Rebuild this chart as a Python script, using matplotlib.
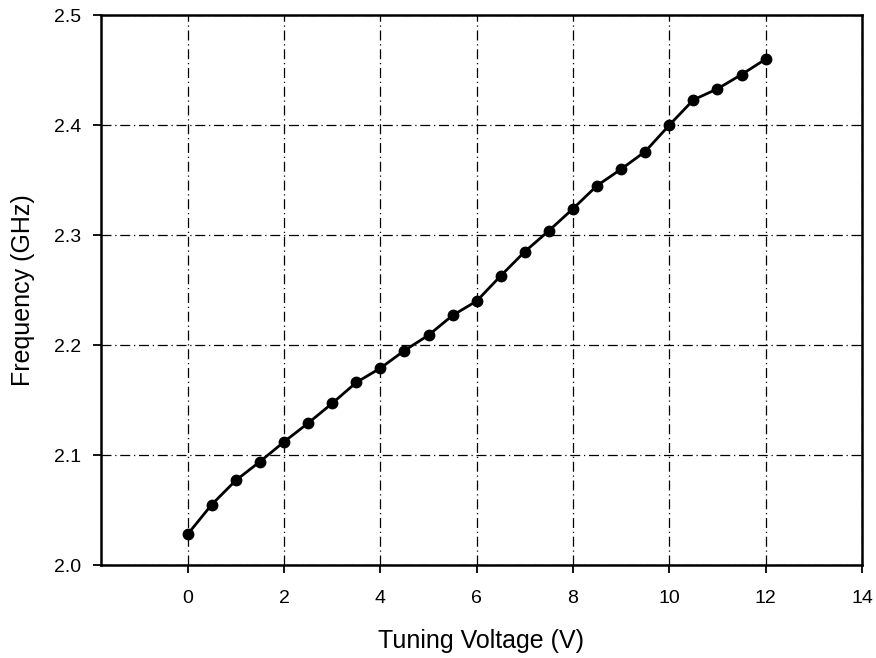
import matplotlib
matplotlib.use("Agg")
import matplotlib.pyplot as plt

plt.rcParams['font.family'] = ['Liberation Sans', 'DejaVu Sans']

# Tuning voltage (V) and measured oscillation frequency (GHz)
voltage = [0, 0.5, 1, 1.5, 2, 2.5, 3, 3.5, 4, 4.5, 5, 5.5, 6,
           6.5, 7, 7.5, 8, 8.5, 9, 9.5, 10, 10.5, 11, 11.5, 12]
frequency = [2.028, 2.055, 2.077, 2.094, 2.112, 2.129, 2.147, 2.166, 2.179,
             2.195, 2.209, 2.227, 2.240, 2.263, 2.285, 2.304, 2.324, 2.345,
             2.360, 2.376, 2.400, 2.423, 2.433, 2.446, 2.460]

x_ticks = [0, 2, 4, 6, 8, 10, 12, 14]
y_ticks = [2.0, 2.1, 2.2, 2.3, 2.4, 2.5]

fig = plt.figure(figsize=(8.76, 6.58), dpi=100)
ax = fig.add_axes([0.1153, 0.1413, 0.8687, 0.8357])

ax.plot(voltage, frequency, color='black', lw=2.0, marker='o',
        markersize=7.5, markerfacecolor='black', markeredgecolor='black',
        zorder=3)

ax.set_xlim(-1.8, 14)
ax.set_ylim(2.0, 2.5)
ax.set_xticks(x_ticks)
ax.set_yticks(y_ticks)
ax.set_xticklabels([str(v) for v in x_ticks])
ax.set_yticklabels([f"{v:.1f}" for v in y_ticks])

ax.grid(True, color='black', linestyle='-.', linewidth=0.9, dashes=(8, 3, 1, 3))

for s in ax.spines.values():
    s.set_linewidth(1.8)
    s.set_color('black')

ax.tick_params(axis='both', direction='out', length=6, width=1.3,
               labelsize=14, colors='black')
ax.tick_params(axis='x', pad=12)
ax.tick_params(axis='y', pad=8)

ax.set_xlabel("Tuning Voltage (V)", fontsize=18, labelpad=16)
ax.set_ylabel("Frequency (GHz)", fontsize=18, labelpad=14)

fig.savefig("out.png", dpi=100)
